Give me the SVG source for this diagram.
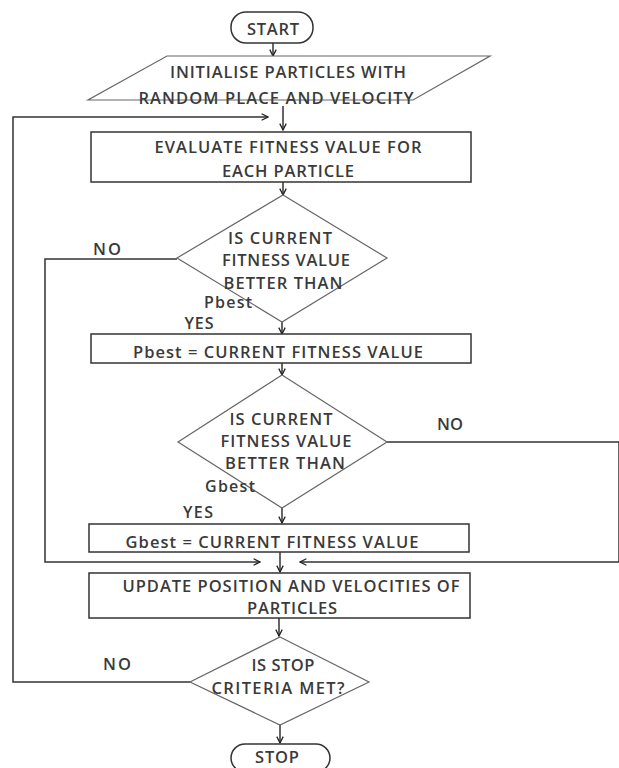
<svg xmlns="http://www.w3.org/2000/svg" width="619" height="768" viewBox="0 0 619 768">
<defs>
<style>
.t{font-family:"Open Sans","Liberation Sans",sans-serif;font-size:16.5px;font-weight:600;fill:#3a3a3a;}
.s{font-size:16px;}
.b{fill:#fff;stroke:#333;stroke-width:1.5;}
.d{fill:#fff;stroke:#666;stroke-width:1.2;}
.c{fill:none;stroke:#333;stroke-width:1.5;}
</style>
<marker id="ah" viewBox="0 0 10 10" refX="9" refY="5" markerWidth="8" markerHeight="8" markerUnits="userSpaceOnUse" orient="auto">
<path d="M1,1 L9,5 L1,9" fill="none" stroke="#222" stroke-width="1.6"/>
</marker>
</defs>
<rect width="619" height="768" fill="#fff"/>
<g id="connectors">
<line class="c" x1="273" y1="43" x2="273" y2="56" marker-end="url(#ah)"/>
<line class="c" x1="283" y1="106" x2="283" y2="130" marker-end="url(#ah)"/>
<polyline class="c" points="190,682 13,682 13,117 268,117" marker-end="url(#ah)"/>
<line class="c" x1="283" y1="182" x2="283" y2="195" marker-end="url(#ah)"/>
<polyline class="c" points="177,259 45,259 45,562 260,562" marker-end="url(#ah)"/>
<line class="c" x1="282" y1="322" x2="282" y2="334" marker-end="url(#ah)"/>
<line class="c" x1="282" y1="363" x2="282" y2="375" marker-end="url(#ah)"/>
<polyline class="c" points="387,442 619,442 619,562 300,562" marker-end="url(#ah)"/>
<line class="c" x1="282" y1="508" x2="282" y2="523" marker-end="url(#ah)"/>
<line class="c" x1="280" y1="552" x2="280" y2="572" marker-end="url(#ah)"/>
<line class="c" x1="279" y1="618" x2="279" y2="636" marker-end="url(#ah)"/>
<line class="c" x1="280" y1="725" x2="280" y2="743" marker-end="url(#ah)"/>
</g>
<g id="start">
<rect class="b" x="231" y="12" width="82" height="31" rx="15"/>
<text class="t" x="273" y="35" text-anchor="middle" textLength="52">START</text>
</g>
<g id="init">
<polygon class="d" points="167,56 490,56 413,100 88,100"/>
<text class="t" x="288" y="78" text-anchor="middle" textLength="236">INITIALISE PARTICLES WITH</text>
<text class="t" x="276" y="104" text-anchor="middle" textLength="275">RANDOM PLACE AND VELOCITY</text>
</g>
<g id="evaluate">
<rect class="b" x="91" y="132" width="380" height="50"/>
<text class="t" x="288" y="153" text-anchor="middle" textLength="267">EVALUATE FITNESS VALUE FOR</text>
<text class="t" x="288" y="177" text-anchor="middle" textLength="132">EACH PARTICLE</text>
</g>
<g id="decision1">
<polygon class="d" points="283,195 387,258 282,322 177,258"/>
<text class="t" x="280" y="244" text-anchor="middle" textLength="104">IS CURRENT</text>
<text class="t" x="286" y="266" text-anchor="middle" textLength="128">FITNESS VALUE</text>
<text class="t" x="283" y="289" text-anchor="middle" textLength="119">BETTER THAN</text>
<text class="t s" x="228" y="308" text-anchor="middle" textLength="48">Pbest</text>
<text class="t s" x="199" y="329" text-anchor="middle" textLength="29">YES</text>
<text class="t" x="107" y="255" text-anchor="middle" textLength="28">NO</text>
</g>
<g id="pbest">
<rect class="b" x="91" y="334" width="380" height="29"/>
<text class="t" x="278" y="358" text-anchor="middle" textLength="290">Pbest = CURRENT FITNESS VALUE</text>
</g>
<g id="decision2">
<polygon class="d" points="282,375 387,442 282,508 178,442"/>
<text class="t" x="281" y="425" text-anchor="middle" textLength="103">IS CURRENT</text>
<text class="t" x="286" y="447" text-anchor="middle" textLength="131">FITNESS VALUE</text>
<text class="t" x="285" y="469" text-anchor="middle" textLength="120">BETTER THAN</text>
<text class="t s" x="230" y="492" text-anchor="middle" textLength="50">Gbest</text>
<text class="t s" x="198" y="518" text-anchor="middle" textLength="30">YES</text>
<text class="t" x="450" y="430" text-anchor="middle" textLength="26">NO</text>
</g>
<g id="gbest">
<rect class="b" x="89" y="524" width="380" height="28"/>
<text class="t" x="272" y="548" text-anchor="middle" textLength="293">Gbest = CURRENT FITNESS VALUE</text>
</g>
<g id="update">
<rect class="b" x="89" y="573" width="381" height="45"/>
<text class="t" x="291" y="592" text-anchor="middle" textLength="337">UPDATE POSITION AND VELOCITIES OF</text>
<text class="t" x="292" y="614" text-anchor="middle" textLength="90">PARTICLES</text>
</g>
<g id="decision3">
<polygon class="d" points="280,637 369,682 280,725 190,682"/>
<text class="t" x="283" y="671" text-anchor="middle" textLength="63">IS STOP</text>
<text class="t" x="278" y="694" text-anchor="middle" textLength="133">CRITERIA MET?</text>
<text class="t" x="117" y="670" text-anchor="middle" textLength="28">NO</text>
</g>
<g id="stop">
<rect class="b" x="231" y="744" width="99" height="28" rx="14"/>
<text class="t" x="277" y="763" text-anchor="middle" textLength="44">STOP</text>
</g>
</svg>
